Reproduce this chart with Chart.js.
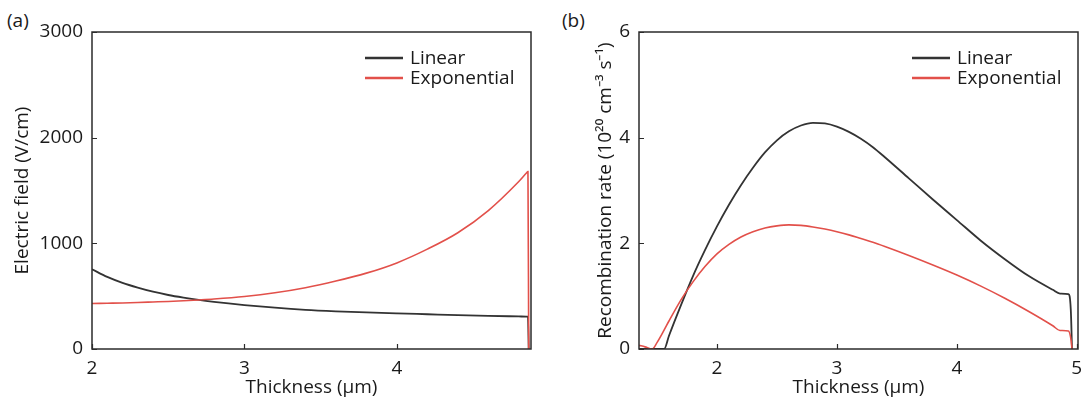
<!DOCTYPE html>
<html>
<head>
<meta charset="utf-8">
<script src="https://cdn.jsdelivr.net/npm/chart.js@4.4.1/dist/chart.umd.min.js"></script>
<style>
  html, body { margin: 0; padding: 0; background: #ffffff; }
  body { width: 1081px; height: 400px; position: relative; overflow: hidden; font-family: "Open Sans", sans-serif; }
  .panel { position: absolute; top: 0; height: 400px; }
  .plabel { position: absolute; top: 7px; font-size: 19px; color: #1a1a1a; line-height: 26px; }
</style>
</head>
<body>
<div class="plabel" style="left:7px;">(a)</div>
<div class="plabel" style="left:562px;">(b)</div>
<div class="panel" style="left:0; width:540px;"><canvas id="chartA" width="540" height="400"></canvas></div>
<div class="panel" style="left:545px; width:536px;"><canvas id="chartB" width="536" height="400"></canvas></div>
<script>
// ---------- Panel (a): Electric field ----------
const thicknessA = [2.0, 2.1, 2.2, 2.3, 2.4, 2.5, 2.6, 2.7, 2.8, 3.0, 3.2, 3.4, 3.6, 3.8, 4.0, 4.2, 4.4, 4.6, 4.8, 4.85, 4.86, 4.865];
const fieldLinear = [755, 682, 626, 581, 542, 511, 486, 464, 446, 416, 391, 371, 357, 346, 337, 329, 321, 314, 308, 306.5, 306, 0];
const fieldExponential = [430, 433, 436, 440, 445, 450, 456, 464, 473, 497, 532, 580, 643, 718, 815, 945, 1100, 1310, 1585, 1665, 1680, 0];
const xTicksA = [2, 3, 4];
const yTicksA = [0, 1000, 2000, 3000];

// ---------- Panel (b): Recombination rate ----------
const thicknessB = [1.35, 1.40, 1.46, 1.50, 1.56, 1.6, 1.7, 1.8, 1.9, 2.0, 2.1, 2.2, 2.3, 2.4, 2.5, 2.6, 2.7, 2.8, 2.9, 3.0, 3.1, 3.2, 3.3, 3.4, 3.6, 3.8, 4.0, 4.2, 4.4, 4.6, 4.8, 4.86, 4.93, 4.95, 4.96];
const rateLinear = [0, 0, 0, 0, 0, 0.25, 0.83, 1.38, 1.87, 2.32, 2.73, 3.10, 3.43, 3.72, 3.95, 4.12, 4.23, 4.28, 4.27, 4.21, 4.11, 3.98, 3.82, 3.63, 3.23, 2.83, 2.44, 2.05, 1.70, 1.38, 1.12, 1.05, 1.04, 0.74, 0];
const rateExponential = [0.07, 0.04, 0.0, 0.12, 0.36, 0.53, 0.93, 1.27, 1.56, 1.80, 1.98, 2.12, 2.22, 2.29, 2.33, 2.35, 2.34, 2.31, 2.27, 2.22, 2.16, 2.09, 2.02, 1.94, 1.77, 1.59, 1.40, 1.19, 0.96, 0.71, 0.44, 0.35, 0.34, 0.20, 0];
const xTicksB = [2, 3, 4, 5];
const yTicksB = [0, 2, 4, 6];

const seriesNames = ['Linear', 'Exponential'];
const COL_LIN = '#333333';
const COL_EXP = '#e2504a';
const FONT = '"Open Sans", sans-serif';
const TEXT = '#1a1a1a';

function pts(xs, ys) { return xs.map((x, i) => ({ x: x, y: ys[i] })); }

const framePlugin = {
  id: 'frameTicksLegend',
  afterDatasetsDraw(chart) {
    const { ctx, chartArea: a, scales } = chart;
    const x = scales.x, y = scales.y;
    ctx.save();
    ctx.strokeStyle = '#2b2b2b';
    ctx.lineWidth = 1.5;
    ctx.strokeRect(a.left, a.top, a.right - a.left, a.bottom - a.top);
    ctx.beginPath();
    x.ticks.forEach(t => {
      const px = Math.round(x.getPixelForValue(t.value)) + 0.5;
      ctx.moveTo(px, a.bottom); ctx.lineTo(px, a.bottom - 5);
    });
    y.ticks.forEach(t => {
      const py = Math.round(y.getPixelForValue(t.value)) + 0.5;
      ctx.moveTo(a.left, py); ctx.lineTo(a.left + 5, py);
    });
    ctx.lineWidth = 1.2;
    ctx.stroke();
    // legend
    const lx = a.right - 166;
    ctx.font = '19px ' + FONT;
    ctx.textBaseline = 'middle';
    ctx.textAlign = 'left';
    chart.data.datasets.forEach((ds, i) => {
      const ly = a.top + 26 + i * 20;
      ctx.strokeStyle = ds.borderColor;
      ctx.lineWidth = 2.4;
      ctx.beginPath(); ctx.moveTo(lx, ly); ctx.lineTo(lx + 38, ly); ctx.stroke();
      ctx.fillStyle = TEXT;
      ctx.fillText(ds.label, lx + 45, ly + 1);
    });
    ctx.restore();
  }
};

function makeChart(id, xs, ys1, ys2, xr, yr, xTicks, yTicks, yTitle, yScaleWidth, yTitlePad, padRight) {
  return new Chart(document.getElementById(id), {
    type: 'scatter',
    data: {
      datasets: [
        { label: seriesNames[0], data: pts(xs, ys1), borderColor: COL_LIN, backgroundColor: COL_LIN, borderWidth: 1.8, order: 2 },
        { label: seriesNames[1], data: pts(xs, ys2), borderColor: COL_EXP, backgroundColor: COL_EXP, borderWidth: 1.6, order: 1 }
      ]
    },
    options: {
      responsive: false,
      animation: false,
      showLine: true,
      elements: { point: { radius: 0, hoverRadius: 0 }, line: { cubicInterpolationMode: 'monotone' } },
      layout: { padding: { top: 32, right: padRight, bottom: 0, left: 0 } },
      plugins: { legend: { display: false }, tooltip: { enabled: false } },
      scales: {
        x: {
          type: 'linear', min: xr[0], max: xr[1],
          afterBuildTicks: s => { s.ticks = xTicks.map(v => ({ value: v })); },
          afterFit: s => { s.height = 51; s.paddingLeft = 0; s.paddingRight = 0; },
          grid: { display: false, drawTicks: false },
          border: { display: false },
          ticks: { autoSkip: false, maxRotation: 0, padding: 8, color: TEXT, font: { family: FONT, size: 19 }, callback: v => String(v) },
          title: { display: true, text: 'Thickness (µm)', color: TEXT, font: { family: FONT, size: 19 }, padding: { top: 0, bottom: 1 } }
        },
        y: {
          type: 'linear', min: yr[0], max: yr[1],
          afterBuildTicks: s => { s.ticks = yTicks.map(v => ({ value: v })); },
          afterFit: s => { s.width = yScaleWidth; s.paddingTop = 0; s.paddingBottom = 0; },
          grid: { display: false, drawTicks: false },
          border: { display: false },
          ticks: { autoSkip: false, padding: 9, color: TEXT, font: { family: FONT, size: 19 }, callback: v => String(v) },
          title: { display: true, text: yTitle, color: TEXT, font: { family: FONT, size: 19 }, padding: { top: yTitlePad, bottom: 0 } }
        }
      }
    },
    plugins: [framePlugin]
  });
}

makeChart('chartA', thicknessA, fieldLinear, fieldExponential, [2, 4.88], [0, 3000], xTicksA, yTicksA,
  'Electric field (V/cm)', 92, 11, 9);
makeChart('chartB', thicknessB, rateLinear, rateExponential, [1.35, 5.01], [0, 6], xTicksB, yTicksB,
  'Recombination rate (10²⁰ cm⁻³ s⁻¹)', 94, 49, 3);
</script>
</body>
</html>
